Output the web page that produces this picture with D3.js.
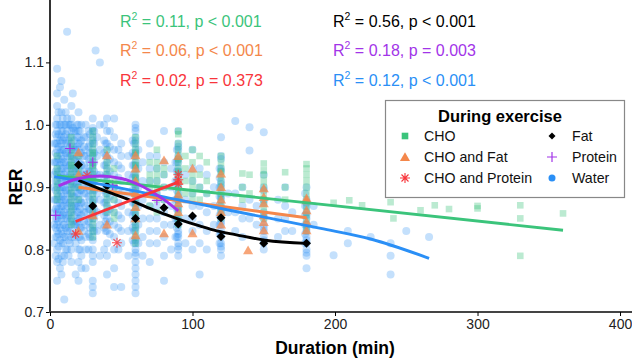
<!DOCTYPE html>
<html><head><meta charset="utf-8">
<script src="https://cdn.jsdelivr.net/npm/d3@7"></script>
<style>body{margin:0;background:#fff}svg{display:block}text{font-family:"Liberation Sans",Arial,Helvetica,sans-serif}</style>
</head><body><svg id="c" width="632" height="358"></svg>
<script>
const xTicks=[0,100,200,300,400];
const yTicks=[0.7,0.8,0.9,1.0,1.1];
const groups=["CHO","CHO and Fat","CHO and Protein","Fat","Protein","Water"];
const colors={"CHO":"#3BC47B","CHO and Fat":"#F4874B","CHO and Protein":"#F8353B","Fat":"#000000","Protein":"#A234E8","Water":"#2A8FF6"};
// Water: [duration, [RER values]]
const waterCols=[
[3,[0.97,0.94,0.92,0.9,0.88,0.86,0.84,0.81]],
[4,[1.0,0.985,0.97,0.955,0.94,0.925,0.91,0.895,0.88,0.865,0.85,0.835,0.82,0.79]],
[5,[1.09,1.05,1.03,1.01,1.0,0.99,0.98,0.97,0.96,0.95,0.94,0.93,0.92,0.91,0.9,0.89,0.88,0.87,0.86,0.85,0.84,0.83,0.82,0.8,0.78,0.75]],
[6,[1.02,0.985,0.965,0.945,0.925,0.905,0.885,0.865,0.845,0.825,0.805,0.785]],
[7,[1.06,1.0,0.975,0.955,0.935,0.915,0.895,0.875,0.855,0.835,0.815,0.77]],
[8,[1.07,1.02,1.0,0.99,0.98,0.97,0.96,0.95,0.94,0.93,0.92,0.91,0.9,0.89,0.88,0.87,0.86,0.85,0.83,0.81,0.79,0.76]],
[9,[1.01,0.99,0.975,0.96,0.945,0.93,0.915,0.9,0.885,0.87,0.855,0.84,0.825,0.81,0.78]],
[10,[1.04,1.0,0.98,0.96,0.94,0.92,0.9,0.88,0.86,0.84,0.82,0.79,0.72]],
[11,[1.02,1.0,0.985,0.97,0.955,0.94,0.925,0.91,0.895,0.88,0.865,0.85,0.835,0.82,0.8]],
[12,[1.149,1.01,0.99,0.97,0.95,0.93,0.91,0.89,0.87,0.85,0.83,0.8]],
[13,[1.0,0.975,0.955,0.935,0.915,0.895,0.875,0.855,0.835,0.815,0.79]],
[14,[1.0,0.98,0.965,0.95,0.935,0.92,0.905,0.89,0.875,0.86,0.845,0.83,0.81]],
[15,[1.03,1.01,1.0,0.99,0.98,0.97,0.96,0.95,0.94,0.93,0.92,0.91,0.9,0.89,0.88,0.87,0.86,0.85,0.84,0.82,0.8,0.78]],
[16,[1.05,0.995,0.965,0.945,0.925,0.905,0.885,0.865,0.845,0.825]],
[17,[0.99,0.975,0.96,0.945,0.93,0.915,0.9,0.885,0.87,0.855,0.84,0.82]],
[18,[0.99,0.96,0.93,0.9,0.87,0.84,0.81,0.76]],
[19,[1.0,0.98,0.965,0.95,0.935,0.92,0.905,0.89,0.875,0.86,0.845,0.83]],
[20,[1.02,1.0,0.99,0.98,0.97,0.96,0.95,0.94,0.93,0.92,0.91,0.9,0.89,0.88,0.87,0.86,0.85,0.84,0.82,0.8,0.78,0.75]],
[21,[0.99,0.97,0.955,0.94,0.925,0.91,0.895,0.88,0.865,0.85,0.835,0.82,0.8]],
[22,[1.0,0.975,0.955,0.935,0.915,0.895,0.875,0.855,0.835,0.815,0.79,0.77]],
[24,[0.98,0.965,0.95,0.935,0.92,0.905,0.89,0.875,0.86,0.845,0.83]],
[25,[1.0,0.98,0.96,0.95,0.93,0.92,0.9,0.89,0.87,0.86,0.84,0.82,0.8,0.77]],
[27,[0.99,0.965,0.945,0.925,0.905,0.885,0.865,0.845,0.825,0.8]],
[28,[0.985,0.97,0.955,0.94,0.925,0.91,0.895,0.88,0.865,0.85,0.835,0.82]],
[30,[1.01,0.995,0.99,0.98,0.975,0.97,0.96,0.955,0.95,0.94,0.935,0.93,0.92,0.915,0.91,0.9,0.895,0.89,0.88,0.875,0.87,0.86,0.855,0.85,0.84,0.835,0.83,0.82,0.815,0.8,0.79,0.78,0.75,0.74,0.73]],
[31,[0.99,0.97,0.955,0.94,0.925,0.91,0.895,0.88,0.865,0.85,0.83]],
[32,[1.119]],
[33,[0.98,0.95,0.92,0.89,0.86,0.83]],
[35,[1.1,1.0,0.96,0.92,0.88,0.84,0.79]],
[38,[1.0,0.975,0.955,0.935,0.915,0.895,0.875,0.855,0.835,0.8]],
[39,[0.97,0.95,0.935,0.92,0.905,0.89,0.875,0.86,0.845,0.83]],
[40,[1.01,0.99,0.97,0.96,0.95,0.94,0.93,0.92,0.91,0.9,0.89,0.88,0.87,0.86,0.85,0.84,0.83,0.81,0.79,0.76]],
[42,[0.99,0.965,0.945,0.925,0.905,0.885,0.865,0.845,0.825]],
[45,[1.01,0.98,0.96,0.94,0.92,0.9,0.88,0.86,0.84,0.82,0.8,0.77,0.74]],
[48,[0.96,0.935,0.915,0.895,0.875,0.855,0.835,0.8]],
[50,[0.97,0.95,0.93,0.91,0.89,0.87,0.85,0.83,0.81,0.74]],
[55,[0.95,0.92,0.89,0.86,0.83,0.79]],
[58,[0.975,0.955,0.935,0.915,0.895,0.875,0.855,0.835,0.815]],
[59,[0.97,0.95,0.935,0.92,0.905,0.89,0.875,0.86,0.845,0.83,0.81]],
[60,[1.0,0.995,0.99,0.98,0.975,0.97,0.96,0.955,0.95,0.94,0.935,0.93,0.92,0.915,0.91,0.9,0.895,0.89,0.88,0.875,0.87,0.86,0.855,0.85,0.84,0.835,0.83,0.82,0.815,0.81,0.8,0.795,0.79,0.78,0.77,0.76,0.75,0.74,0.73]],
[62,[0.96,0.93,0.9,0.87,0.84,0.81]],
[65,[0.94,0.91,0.88,0.85,0.82,0.79]],
[70,[0.97,0.95,0.93,0.91,0.89,0.87,0.85,0.83,0.81,0.78]],
[75,[0.95,0.93,0.91,0.89,0.87,0.85,0.83,0.81]],
[80,[0.99,0.94,0.92,0.9,0.88,0.86,0.84,0.82,0.79,0.75]],
[85,[0.93,0.9,0.87,0.84,0.8]],
[88,[0.94,0.91,0.88,0.85,0.82]],
[89,[0.96,0.94,0.925,0.91,0.895,0.88,0.865,0.85,0.835,0.82]],
[90,[0.99,0.97,0.965,0.96,0.95,0.945,0.94,0.93,0.925,0.92,0.91,0.905,0.9,0.89,0.885,0.88,0.87,0.865,0.86,0.85,0.845,0.84,0.83,0.825,0.82,0.81,0.805,0.8,0.79]],
[95,[0.92,0.88,0.85,0.81]],
[100,[0.96,0.93,0.91,0.89,0.87,0.85,0.83,0.8]],
[105,[0.93,0.9,0.87,0.84,0.81,0.76]],
[110,[0.92,0.89,0.86,0.83,0.8]],
[115,[0.9,0.87,0.84]],
[119,[0.93,0.915,0.9,0.885,0.87,0.855,0.84,0.825,0.81]],
[120,[0.98,0.95,0.945,0.93,0.925,0.91,0.905,0.9,0.89,0.885,0.88,0.87,0.865,0.86,0.85,0.845,0.84,0.83,0.825,0.82,0.81,0.805,0.8,0.79]],
[125,[0.89,0.86]],
[130,[1.006,0.89,0.86,0.83]],
[135,[0.9,0.87,0.85,0.82]],
[140,[0.996,0.959,0.88,0.85]],
[145,[0.87,0.84]],
[150,[0.988,0.92,0.9,0.895,0.88,0.875,0.86,0.855,0.85,0.84,0.835,0.83,0.82,0.815,0.81,0.8]],
[160,[0.88,0.85,0.82]],
[165,[0.9,0.87,0.85,0.83]],
[170,[0.86,0.83]],
[179,[0.89,0.87,0.855,0.84,0.825,0.81]],
[180,[0.9,0.88,0.875,0.87,0.86,0.855,0.85,0.84,0.835,0.83,0.82,0.815,0.81,0.8,0.795,0.79,0.77]],
[185,[0.87,0.84]],
[199,[0.791]],[209,[0.81,0.83]],[225,[0.82]],[239,[0.81,0.79,0.76]],[250,[0.83]],[266,[0.82]]
];
// CHO: [duration, [RER values]]
const choCols=[
[5,[0.95,0.93,0.92,0.91,0.9,0.89,0.88]],
[15,[0.98,0.97,0.96,0.95,0.94,0.935,0.93,0.92,0.915,0.91,0.9,0.89,0.88,0.87,0.86,0.85,0.84]],
[20,[0.95,0.93,0.92,0.9,0.88]],
[30,[0.99,0.98,0.97,0.96,0.955,0.95,0.94,0.935,0.93,0.92,0.915,0.91,0.9,0.89,0.88,0.87,0.86,0.85,0.84,0.83,0.82]],
[40,[0.96,0.94,0.93,0.92,0.91,0.9,0.89,0.88,0.87,0.86]],
[45,[0.93,0.91,0.9,0.88,0.86,0.85]],
[60,[0.98,0.97,0.96,0.955,0.95,0.94,0.935,0.93,0.92,0.915,0.91,0.9,0.89,0.88,0.87,0.86,0.85,0.84,0.83,0.82,0.81]],
[70,[0.94,0.92,0.91,0.9,0.89,0.87]],
[75,[0.96,0.94,0.93,0.92,0.91,0.9,0.89,0.88,0.86]],
[80,[0.93,0.92,0.9,0.88]],
[90,[0.99,0.985,0.97,0.96,0.95,0.945,0.94,0.93,0.925,0.92,0.91,0.9,0.89,0.88,0.87,0.86,0.85,0.84]],
[95,[0.95,0.93,0.91,0.89]],
[100,[0.96,0.94,0.92,0.91,0.9,0.89,0.88]],
[105,[0.95,0.92,0.9,0.88]],
[110,[0.94,0.91,0.89]],
[120,[0.95,0.94,0.93,0.925,0.92,0.91,0.9,0.89,0.88,0.87,0.86,0.85]],
[135,[0.922,0.9,0.88]],
[140,[0.92,0.89]],
[150,[0.938,0.927,0.92,0.91,0.9,0.89,0.88,0.87,0.86,0.85]],
[165,[0.924,0.9,0.88]],
[180,[0.937,0.93,0.92,0.91,0.9,0.89,0.88,0.87,0.86,0.85,0.84,0.83]],
[199,[0.875]],[210,[0.879]],[219,[0.871]],[239,[0.876]],[241,[0.85]],[260,[0.863]],
[270,[0.871]],[280,[0.865]],[300,[0.87,0.866]],[330,[0.871,0.85,0.79]],[360,[0.858]]
];
const choFatPts=[[20,0.956],[20,0.92],[20,0.83],[30,0.855],[40,0.951],[40,0.84],[60,0.951],[60,0.93],[60,0.91],[60,0.89],[60,0.868],[60,0.85],[60,0.823],[80,0.943],[80,0.826],[90,0.95],[90,0.91],[90,0.888],[90,0.874],[90,0.86],[100,0.93],[100,0.826],[120,0.922],[120,0.9],[120,0.88],[120,0.86],[120,0.84],[139,0.799],[150,0.898],[150,0.884],[150,0.874],[150,0.855],[150,0.844],[150,0.831],[180,0.882],[180,0.879],[180,0.863],[180,0.845],[180,0.831]];
const choProtPts=[[18,0.825],[26,0.919],[47,0.811],[90,0.92],[90,0.912],[90,0.905]];
const fatPts=[[20,0.936],[30,0.870],[40,0.902],[60,0.850],[80,0.867],[90,0.841],[100,0.854],[120,0.851],[120,0.821],[150,0.810],[180,0.810]];
const protPts=[[4,0.855],[14,0.962],[30,0.940],[44,0.903],[75,0.879]];
// fitted curves
const fitCHO=[[5,0.918],[360,0.831]];
const fitCHOFat=[[20,0.900],[180,0.851]];
const fitCHOProt=[[18,0.845],[90,0.908]];
const fitFat=[[20,0.911],[40,0.893],[61,0.875],[70,0.866],[90,0.849],[105,0.838],[117,0.830],[130,0.824],[151,0.815],[180,0.810]];
const fitProt=[[6,0.902],[20,0.914],[35,0.918],[50,0.914],[65,0.901],[80,0.880],[90,0.862]];
const fitWater=[[3,0.917],[20,0.911],[35,0.905],[96,0.877],[126,0.863],[190,0.834],[225,0.817],[266,0.786]];
const annLabels=[
 ["0.11","p < 0.001","CHO"],["0.06","p < 0.001","CHO and Fat"],["0.02","p = 0.373","CHO and Protein"],
 ["0.56","p < 0.001","Fat"],["0.18","p = 0.003","Protein"],["0.12","p < 0.001","Water"]];

const svg=d3.select("#c");
const x=d3.scaleLinear().domain([0,408.4]).range([50,632]);
const y=d3.scaleLinear().domain([0.7,1.2]).range([312,0]);

const flat=cols=>cols.flatMap(([d,vs])=>vs.map(v=>[d,v]));
const plot=svg.append("g");

plot.append("g").selectAll("circle").data(flat(waterCols)).join("circle")
 .attr("cx",d=>x(d[0])).attr("cy",d=>y(d[1])).attr("r",4)
 .attr("fill",colors.Water).attr("fill-opacity",0.28);
plot.append("g").selectAll("rect").data(flat(choCols)).join("rect")
 .attr("x",d=>x(d[0])-3.3).attr("y",d=>y(d[1])-3.3).attr("width",6.6).attr("height",6.6)
 .attr("fill",colors.CHO).attr("fill-opacity",0.35);
const tri=d3.symbol().type(d3.symbolTriangle).size(44);
plot.append("g").selectAll("path").data(choFatPts).join("path")
 .attr("d",tri).attr("transform",d=>`translate(${x(d[0])},${y(d[1])+1})`)
 .attr("fill",colors["CHO and Fat"]).attr("fill-opacity",0.75);
function asterisk(r){return `M${-r},0H${r}M0,${-r}V${r}M${-r*0.7},${-r*0.7}L${r*0.7},${r*0.7}M${-r*0.7},${r*0.7}L${r*0.7},${-r*0.7}`;}
plot.append("g").selectAll("path").data(choProtPts).join("path")
 .attr("d",asterisk(5)).attr("transform",d=>`translate(${x(d[0])},${y(d[1])})`)
 .attr("stroke",colors["CHO and Protein"]).attr("stroke-width",1.1).attr("fill","none").attr("stroke-opacity",0.85);
plot.append("g").selectAll("path").data(fatPts).join("path")
 .attr("d","M0,-4.5L4.5,0L0,4.5L-4.5,0Z").attr("transform",d=>`translate(${x(d[0])},${y(d[1])})`)
 .attr("fill",colors.Fat);
plot.append("g").selectAll("path").data(protPts).join("path")
 .attr("d","M-5,0H5M0,-5V5").attr("transform",d=>`translate(${x(d[0])},${y(d[1])})`)
 .attr("stroke",colors.Protein).attr("stroke-width",1.2).attr("fill","none");

const line=d3.line().x(d=>x(d[0])).y(d=>y(d[1])).curve(d3.curveMonotoneX);
[[fitCHO,"CHO"],[fitCHOFat,"CHO and Fat"],[fitWater,"Water"],[fitFat,"Fat"],[fitProt,"Protein"],[fitCHOProt,"CHO and Protein"]]
 .forEach(([pts,g])=>{
  plot.append("path").datum(pts).attr("d",line).attr("fill","none")
   .attr("stroke",colors[g]).attr("stroke-width",2.9).attr("stroke-linecap","butt");
 });

// axes
const yAxis=svg.append("g").attr("transform","translate(50,0)")
 .call(d3.axisLeft(y).tickValues(yTicks).tickSize(4).tickPadding(2).tickFormat(d3.format(".1f")));
yAxis.select(".domain").attr("d","M0,0V312").attr("stroke","#000").attr("stroke-width",1.6);
yAxis.selectAll("text").attr("font-size",14).attr("fill","#222").attr("font-family","Liberation Sans, Arial, sans-serif");
const xAxis=svg.append("g").attr("transform","translate(0,312)")
 .call(d3.axisBottom(x).tickValues(xTicks).tickSize(4).tickPadding(3));
xAxis.select(".domain").attr("d","M49,0H632").attr("stroke","#444").attr("stroke-width",2.2);
xAxis.selectAll("text").attr("font-size",14).attr("fill","#222").attr("font-family","Liberation Sans, Arial, sans-serif");

svg.append("text").attr("transform","translate(22,187) rotate(-90)").attr("text-anchor","middle")
 .attr("font-size",17.5).attr("font-weight","bold").text("RER");
svg.append("text").attr("x",335).attr("y",354).attr("text-anchor","middle")
 .attr("font-size",17.5).attr("font-weight","bold").text("Duration (min)");

// annotations
const annX=[120,120,120,333,333,333], annY=[27,56,86,27,56,86];
annLabels.forEach((a,i)=>{
 const t=svg.append("text").attr("x",annX[i]).attr("y",annY[i]).attr("font-size",16).attr("fill",colors[a[2]]);
 t.append("tspan").text("R");
 t.append("tspan").attr("font-size",10.5).attr("dy",-7).text("2");
 t.append("tspan").attr("dy",7).text(` = ${a[0]}, ${a[1]}`);
});

// legend
const lg=svg.append("g");
lg.append("rect").attr("x",385.5).attr("y",100.5).attr("width",239).attr("height",97)
 .attr("fill","#fff").attr("stroke","#888").attr("stroke-width",1.2);
lg.append("text").attr("x",500).attr("y",122).attr("text-anchor","middle")
 .attr("font-size",16.5).attr("font-weight","bold").text("During exercise");
const legPos=[[405,424,136],[405,424,157],[405,424,178],[552,572,136],[552,572,157],[552,572,178]];
groups.forEach((g,i)=>{
 const [sx,tx,cy]=legPos[i];
 const s=lg.append("g").attr("transform",`translate(${sx},${cy})`);
 if(g==="CHO") s.append("rect").attr("x",-3.3).attr("y",-3.3).attr("width",6.6).attr("height",6.6).attr("fill",colors[g]);
 else if(g==="CHO and Fat") s.append("path").attr("d",tri).attr("transform","translate(0,1)").attr("fill",colors[g]);
 else if(g==="CHO and Protein") s.append("path").attr("d",asterisk(5)).attr("stroke",colors[g]).attr("stroke-width",1.1);
 else if(g==="Fat") s.append("path").attr("d","M0,-3.5L3.5,0L0,3.5L-3.5,0Z").attr("fill",colors[g]);
 else if(g==="Protein") s.append("path").attr("d","M-5,0H5M0,-5V5").attr("stroke",colors[g]).attr("stroke-width",1.2);
 else s.append("circle").attr("r",3.5).attr("fill",colors[g]);
 lg.append("text").attr("x",tx).attr("y",cy+5).attr("font-size",14.2).attr("fill","#111").text(g);
});
</script></body></html>
